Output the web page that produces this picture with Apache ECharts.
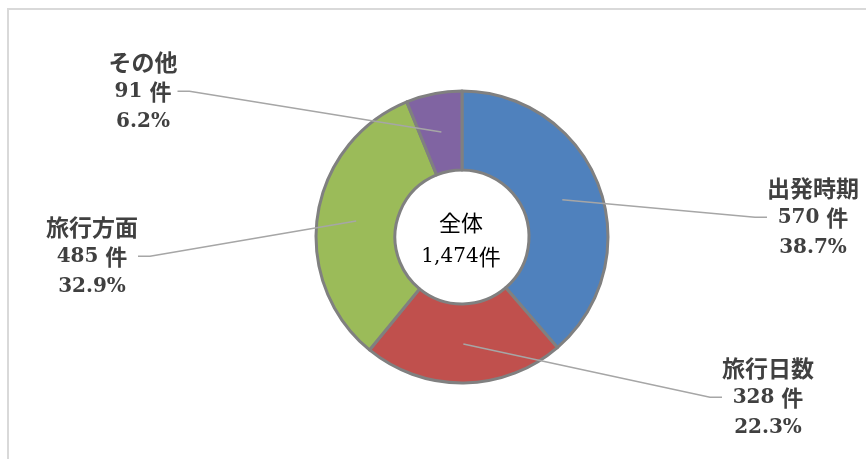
<!DOCTYPE html>
<html lang="ja">
<head>
  <meta charset="UTF-8">
  <title>全体 1,474件</title>
  <script src="https://cdn.jsdelivr.net/npm/echarts@6/dist/echarts.min.js"></script>
  <style>
    html, body { margin: 0; padding: 0; background: #fff; }
    #chart { width: 866px; height: 459px; }
  </style>
</head>
<body>
  <div id="chart"></div>
  <script>
    // データ
    var categories = ['出発時期', '旅行日数', '旅行方面', 'その他'];
    var counts = [570, 328, 485, 91];
    var colors = ['#4f81bd', '#c0504d', '#9bbb59', '#8064a2'];

    // ラベル位置（中心座標）
    var labelX = [813, 768, 92, 143];
    var labelY = [218, 398, 257, 92];

    var total = counts.reduce(function (a, b) { return a + b; }, 0);
    var pieData = categories.map(function (name, i) {
      return { name: name, value: counts[i], itemStyle: { color: colors[i] } };
    });

    var cjk = '"Noto Sans CJK JP", "Noto Sans CJK SC", sans-serif';
    var serif = '"DejaVu Serif", "Liberation Serif", serif';

    var chart = echarts.init(document.getElementById('chart'));
    chart.setOption({
      animation: false,
      graphic: [
        {
          type: 'rect',
          shape: { x: 8, y: 9, width: 900, height: 500 },
          style: { fill: 'none', stroke: '#d9d9d9', lineWidth: 2 },
          silent: true
        },
        {
          type: 'text',
          x: 461,
          y: 240,
          z: 100,
          style: {
            text: '{a|全体}\n{n|' + total.toLocaleString('en-US') + '}{a|件}',
            align: 'center',
            verticalAlign: 'middle',
            rich: {
              a: { fontFamily: cjk, fontSize: 22, color: '#111', lineHeight: 34 },
              n: { fontFamily: serif, fontSize: 20, color: '#111', lineHeight: 34 }
            }
          }
        }
      ],
      series: [
        {
          type: 'pie',
          z: 1,
          center: [462, 237],
          radius: [67, 146],
          startAngle: 90,
          silent: true,
          label: { show: false },
          labelLine: { show: false },
          itemStyle: { borderColor: '#808080', borderWidth: 3 },
          data: pieData
        },
        {
          // 引き出し線用の透明な円
          type: 'pie',
          z: 5,
          center: [462, 237],
          radius: [0, 107],
          startAngle: 90,
          silent: true,
          avoidLabelOverlap: false,
          itemStyle: { color: 'rgba(0,0,0,0)', borderWidth: 0 },
          label: {
            show: true,
            position: 'outside',
            formatter: function (p) {
              var pct = (p.value / total * 100).toFixed(1);
              return '{n|' + p.name + '}\n{v|' + p.value + ' }{u|件}\n{v|' + pct + '%}';
            },
            rich: {
              n: { fontFamily: cjk, fontWeight: 'bold', fontSize: 23, color: '#404040', lineHeight: 30, align: 'center' },
              v: { fontFamily: serif, fontWeight: 'bold', fontSize: 20, color: '#404040', lineHeight: 30 },
              u: { fontFamily: cjk, fontWeight: 'bold', fontSize: 22, color: '#404040', lineHeight: 30 }
            }
          },
          labelLine: {
            show: true,
            length: 10,
            length2: 12,
            lineStyle: { color: '#a6a6a6', width: 1.5 }
          },
          labelLayout: function (params) {
            var i = params.dataIndex;
            return { x: labelX[i], y: labelY[i], align: 'center', verticalAlign: 'middle' };
          },
          data: pieData.map(function (d) {
            return { name: d.name, value: d.value };
          })
        }
      ]
    });
  </script>
</body>
</html>
